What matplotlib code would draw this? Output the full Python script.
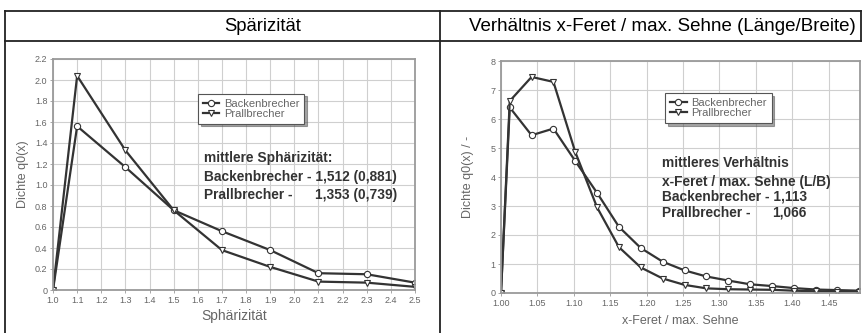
'''
Kornform-Verteilungen: Sphärizität und Längen/Breiten-Verhältnis
Backenbrecher vs. Prallbrecher, als zweispaltige Tabelle
'''

import matplotlib.pyplot as plt
from matplotlib.lines import Line2D

plt.rcParams['font.family'] = ['Liberation Sans', 'DejaVu Sans']

# Sphärizität (Klassenmitten) und Dichte q0
sph_x = [1.0, 1.1, 1.3, 1.5, 1.7, 1.9, 2.1, 2.3, 2.5]
sph_backen = [0.0, 1.56, 1.17, 0.76, 0.56, 0.38, 0.16, 0.15, 0.07]
sph_prall = [0.0, 2.04, 1.33, 0.76, 0.38, 0.22, 0.08, 0.07, 0.03]

# Verhältnis x-Feret / max. Sehne
lb_x = [1.0, 1.012, 1.042, 1.072, 1.102, 1.132, 1.162, 1.192, 1.222,
        1.252, 1.282, 1.312, 1.342, 1.372, 1.402, 1.432, 1.462, 1.492]
lb_backen = [0.0, 6.4, 5.44, 5.67, 4.55, 3.45, 2.28, 1.55, 1.08,
             0.78, 0.57, 0.43, 0.3, 0.24, 0.17, 0.12, 0.1, 0.08]
lb_prall = [0.0, 6.62, 7.45, 7.28, 4.86, 2.95, 1.58, 0.88, 0.5,
            0.28, 0.16, 0.13, 0.12, 0.11, 0.08, 0.06, 0.05, 0.05]

sph_ticks = [1.0, 1.1, 1.2, 1.3, 1.4, 1.5, 1.6, 1.7, 1.8, 1.9, 2.0,
             2.1, 2.2, 2.3, 2.4, 2.5]
sph_yticks = [0.0, 0.2, 0.4, 0.6, 0.8, 1.0, 1.2, 1.4, 1.6, 1.8, 2.0, 2.2]
lb_ticks = [1.00, 1.05, 1.10, 1.15, 1.20, 1.25, 1.30, 1.35, 1.40, 1.45]
lb_yticks = [0, 1, 2, 3, 4, 5, 6, 7, 8]

W, H = 864, 333
fig = plt.figure(figsize=(W / 100, H / 100), dpi=100)
fig.patch.set_facecolor('white')

def px(x, y):
    return x / W, 1 - y / H

# Tabellenrahmen
tab = dict(color='#222222', lw=1.3)
for (x0, y0), (x1, y1) in [((5, 11), (861, 11)), ((5, 41), (861, 41)),
                           ((5, 11), (5, 333)), ((440, 11), (440, 333)),
                           ((861, 11), (861, 41))]:
    a, b = px(x0, y0)
    c, d = px(x1, y1)
    fig.add_artist(Line2D([a, c], [b, d], transform=fig.transFigure, **tab))

fig.text(*px(263, 31), 'Spärizität', ha='center', va='baseline',
         fontsize=13.3)
fig.text(*px(662, 31), 'Verhältnis x-Feret / max. Sehne (Länge/Breite)',
         ha='center', va='baseline', fontsize=13.5)

line_c = '#333333'
grey = '#666666'

def style(ax):
    ax.grid(True, color='#cfcfcf', lw=0.8)
    ax.set_axisbelow(True)
    for s in ax.spines.values():
        s.set_color('#9a9a9a')
        s.set_linewidth(1.3)
    ax.tick_params(length=2, width=0.6, color='#999999', labelsize=6.5,
                   labelcolor=grey, pad=2)

def legend(ax, x, y):
    leg = ax.legend(loc='upper left', bbox_to_anchor=(x, y), fontsize=8,
                    frameon=True, fancybox=False, shadow=True,
                    handlelength=1.5, handletextpad=0.4, borderpad=0.45,
                    labelspacing=0.0, borderaxespad=0)
    leg.get_frame().set_edgecolor('#555555')
    leg.get_frame().set_linewidth(0.8)
    for t in leg.get_texts():
        t.set_color(grey)

def aligned_value(ax, ref, y, s, **kw):
    # Wert rechtsbündig unter das Ende der Zeile darüber setzen
    fig.canvas.draw()
    bb = ref.get_window_extent()
    x_end = ax.transAxes.inverted().transform((bb.x1, bb.y0))[0]
    ax.text(x_end, y, s, ha='right', **kw)

mk = dict(ms=4.5, mfc='white', mew=0.8, color=line_c, lw=1.6)

# linke Spalte: Sphärizität
ax1 = fig.add_axes([53 / W, 43 / H, 362 / W, 231 / H])
ax1.plot(sph_x, sph_backen, marker='o', label='Backenbrecher', **mk)
ax1.plot(sph_x, sph_prall, marker='v', label='Prallbrecher', **mk)
ax1.set_xlim(1.0, 2.5)
ax1.set_ylim(0, 2.2)
ax1.set_xticks(sph_ticks)
ax1.set_xticklabels([f'{t:.1f}' for t in sph_ticks])
ax1.set_yticks(sph_yticks)
ax1.set_yticklabels(['0'] + [f'{t:.1f}' for t in sph_yticks[1:]])
ax1.set_xlabel('Sphärizität', fontsize=10, color=grey, labelpad=3)
ax1.set_ylabel('Dichte q0(x)', fontsize=9, color=grey, labelpad=4)
style(ax1)
legend(ax1, 0.40, 0.85)

bold = dict(transform=ax1.transAxes, fontsize=9.9, fontweight='bold',
            color='#333333', va='center')
ax1.text(0.417, 0.571, 'mittlere Sphärizität:', **bold)
t1 = ax1.text(0.417, 0.489, 'Backenbrecher - 1,512 (0,881)', **bold)
ax1.text(0.417, 0.411, 'Prallbrecher -', **bold)
aligned_value(ax1, t1, 0.411, '1,353 (0,739)', **bold)

# rechte Spalte: x-Feret / max. Sehne
ax2 = fig.add_axes([501 / W, 40 / H, 359 / W, 232 / H])
ax2.plot(lb_x, lb_backen, marker='o', label='Backenbrecher', **mk)
ax2.plot(lb_x, lb_prall, marker='v', label='Prallbrecher', **mk)
ax2.set_xlim(1.0, 1.493)
ax2.set_ylim(0, 8)
ax2.set_xticks(lb_ticks)
ax2.set_xticklabels([f'{t:.2f}' for t in lb_ticks])
ax2.set_yticks(lb_yticks)
ax2.set_xlabel('x-Feret / max. Sehne', fontsize=9, color=grey, labelpad=5)
ax2.set_ylabel('Dichte q0(x) / -', fontsize=9, color=grey, labelpad=12)
style(ax2)
legend(ax2, 0.457, 0.862)

bold['transform'] = ax2.transAxes
ax2.text(0.448, 0.560, 'mittleres Verhältnis', **bold)
ax2.text(0.448, 0.478, 'x-Feret / max. Sehne (L/B)', **bold)
t2 = ax2.text(0.448, 0.414, 'Backenbrecher - 1,113', **bold)
ax2.text(0.448, 0.345, 'Prallbrecher -', **bold)
aligned_value(ax2, t2, 0.345, '1,066', **bold)

plt.savefig('out.png', dpi=100)
